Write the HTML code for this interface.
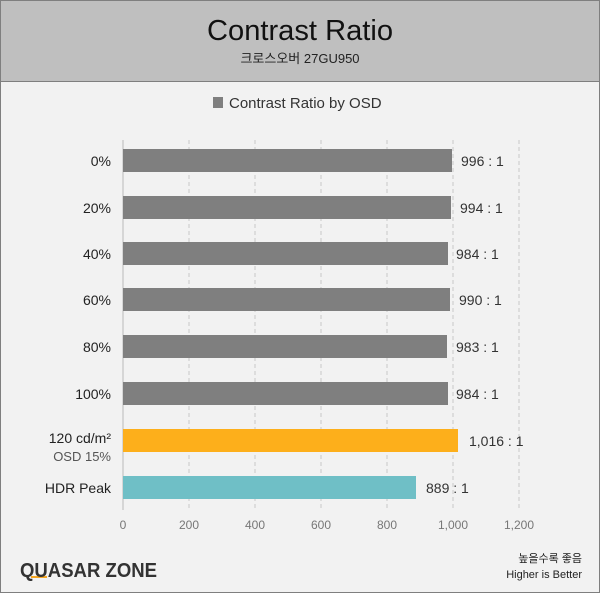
<!DOCTYPE html>
<html><head><meta charset="utf-8"><style>
body{margin:0;width:600px;height:593px;overflow:hidden;font-family:"Liberation Sans","Noto Sans CJK KR",sans-serif;}
</style></head><body>
<svg width="600" height="593" xmlns="http://www.w3.org/2000/svg" font-family="Liberation Sans, Noto Sans CJK KR, sans-serif">
<rect x="0.5" y="0.5" width="599" height="592" fill="#f2f2f2" stroke="#7f7f7f"/>
<rect x="0.5" y="0.5" width="599" height="81" fill="#bfbfbf" stroke="#7f7f7f"/>
<text x="300" y="40" font-size="29" text-anchor="middle" fill="#111" textLength="186" lengthAdjust="spacingAndGlyphs">Contrast Ratio</text>
<text x="300" y="63" font-size="13" text-anchor="middle" fill="#222">크로스오버 27GU950</text>
<rect x="213" y="97" width="10" height="11" fill="#7f7f7f"/>
<text x="229" y="108" font-size="15" fill="#333">Contrast Ratio by OSD</text>
<g stroke="#c8c8c8" stroke-dasharray="4,3">
<line x1="189" y1="140" x2="189" y2="510"/><line x1="255" y1="140" x2="255" y2="510"/>
<line x1="321" y1="140" x2="321" y2="510"/><line x1="387" y1="140" x2="387" y2="510"/>
<line x1="453" y1="140" x2="453" y2="510"/><line x1="519" y1="140" x2="519" y2="510"/>
</g>
<line x1="123" y1="140" x2="123" y2="510" stroke="#bbb"/>
<g fill="#7f7f7f">
<rect x="123" y="149" width="329" height="23"/>
<rect x="123" y="196" width="328" height="23"/>
<rect x="123" y="242" width="325" height="23"/>
<rect x="123" y="288" width="327" height="23"/>
<rect x="123" y="335" width="324" height="23"/>
<rect x="123" y="382" width="325" height="23"/>
</g>
<rect x="123" y="429" width="335" height="23" fill="#fdaf1b"/>
<rect x="123" y="476" width="293" height="23" fill="#6fbfc6"/>
<g font-size="14" fill="#222" text-anchor="end">
<text x="111" y="166">0%</text><text x="111" y="213">20%</text><text x="111" y="259">40%</text>
<text x="111" y="305">60%</text><text x="111" y="352">80%</text><text x="111" y="399">100%</text>
<text x="111" y="443">120 cd/m²</text><text x="111" y="461" fill="#555" font-size="13">OSD 15%</text>
<text x="111" y="493">HDR Peak</text>
</g>
<g font-size="14" fill="#333">
<text x="461" y="166">996 : 1</text><text x="460" y="213">994 : 1</text><text x="456" y="259">984 : 1</text>
<text x="459" y="305">990 : 1</text><text x="456" y="352">983 : 1</text><text x="456" y="399">984 : 1</text>
<text x="469" y="446">1,016 : 1</text><text x="426" y="493">889 : 1</text>
</g>
<g font-size="12" fill="#777" text-anchor="middle">
<text x="123" y="529">0</text><text x="189" y="529">200</text><text x="255" y="529">400</text>
<text x="321" y="529">600</text><text x="387" y="529">800</text><text x="453" y="529">1,000</text><text x="519" y="529">1,200</text>
</g>
<rect x="31" y="576" width="16" height="2" fill="#f5a623"/>
<text x="20" y="577" font-size="20" font-weight="bold" fill="#333" textLength="137" lengthAdjust="spacingAndGlyphs">QUASAR ZONE</text>
<g font-size="11" fill="#222" text-anchor="end">
<text x="582" y="562">높을수록 좋음</text><text x="582" y="578">Higher is Better</text>
</g>
</svg>
</body></html>
